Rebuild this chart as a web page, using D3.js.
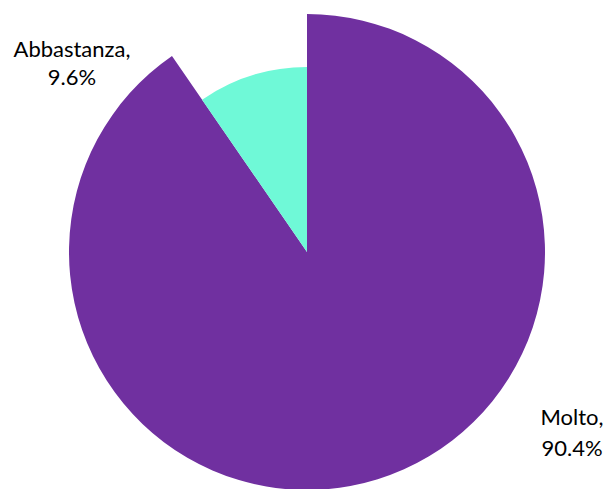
<!DOCTYPE html>
<html>
<head>
<meta charset="utf-8">
<script src="https://cdn.jsdelivr.net/npm/d3@7"></script>
<style>
  html, body { margin: 0; padding: 0; background: #fff; }
  svg { display: block; }
  text { font-family: Lato, "Open Sans", sans-serif; fill: #000; }
</style>
</head>
<body>
<svg id="chart" width="611" height="489"></svg>
<script>
// Categories and their shares (percent)
const categories = ["Molto", "Abbastanza"];
const values = [90.4, 9.6];
const colors = ["#7030A0", "#6FF9D7"];
// Each slice has its own outer radius
const radii = [238, 185];

const width = 611, height = 489;
const cx = 307, cy = 252;

const svg = d3.select("#chart");
const g = svg.append("g").attr("transform", `translate(${cx},${cy})`);

const data = categories.map((c, i) => ({ name: c, value: values[i], color: colors[i], r: radii[i] }));

const pie = d3.pie().sort(null).value(d => d.value);
const arcs = pie(data);

g.selectAll("path")
  .data(arcs)
  .join("path")
  .attr("d", d => d3.arc().innerRadius(0).outerRadius(d.data.r)(d))
  .attr("fill", d => d.data.color);

// Labels: "Category," on first line, percent on second
const labelPos = {
  "Molto": [572, 425],
  "Abbastanza": [72, 57]
};
const fmt = v => d3.format(".1f")(v) + "%";

const labels = svg.selectAll("text.label")
  .data(data)
  .join("text")
  .attr("class", "label")
  .attr("text-anchor", "middle")
  .attr("font-size", 22);

labels.each(function(d) {
  const [x, y] = labelPos[d.name];
  const t = d3.select(this);
  t.append("tspan").attr("x", x).attr("y", y).text(d.name + ",");
  t.append("tspan").attr("x", x).attr("y", y + (d.name === "Molto" ? 31 : 28)).text(fmt(d.value));
});
</script>
</body>
</html>
